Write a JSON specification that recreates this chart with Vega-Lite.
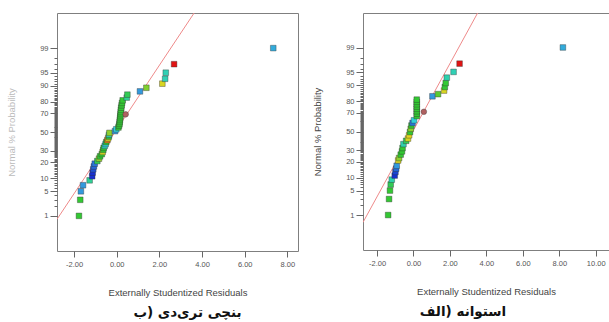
{
  "$schema": "https://vega.github.io/schema/vega-lite/v6.json",
  "background": "white",
  "padding": {"left": 6, "top": 12, "right": 0, "bottom": 0},
  "spacing": 13,
  "config": {
    "view": {"stroke": "#7f7f7f", "strokeWidth": 1},
    "font": "Liberation Sans",
    "axis": {"grid": false, "domain": false, "labelFont": "Liberation Sans", "titleFont": "Liberation Sans", "labelColor": "#555555", "tickColor": "#666666", "titleColor": "#444444", "titleFontWeight": "normal", "labelFontSize": 7.5, "titleFontSize": 9.5}
  },
  "datasets": {
    "bench": [
      {"residual": -1.77, "normal": -2.3263, "level": 0.6, "kind": "run"},
      {"residual": -1.71, "normal": -1.8808, "level": 0.6, "kind": "run"},
      {"residual": -1.68, "normal": -1.6449, "level": 0.15, "kind": "run"},
      {"residual": -1.58, "normal": -1.4758, "level": 0.15, "kind": "run"},
      {"residual": -1.27, "normal": -1.3408, "level": 0.45, "kind": "run"},
      {"residual": -1.15, "normal": -1.2265, "level": 0.0, "kind": "run"},
      {"residual": -1.13, "normal": -1.1264, "level": 0.0, "kind": "run"},
      {"residual": -1.10, "normal": -1.0364, "level": 0.05, "kind": "run"},
      {"residual": -1.07, "normal": -0.9542, "level": 0.08, "kind": "run"},
      {"residual": -1.03, "normal": -0.8779, "level": 0.1, "kind": "run"},
      {"residual": -0.91, "normal": -0.8064, "level": 0.55, "kind": "run"},
      {"residual": -0.83, "normal": -0.7388, "level": 0.72, "kind": "run"},
      {"residual": -0.78, "normal": -0.6745, "level": 0.6, "kind": "run"},
      {"residual": -0.70, "normal": -0.6128, "level": 0.6, "kind": "run"},
      {"residual": -0.66, "normal": -0.5534, "level": 0.85, "kind": "run"},
      {"residual": -0.63, "normal": -0.4959, "level": 0.6, "kind": "run"},
      {"residual": -0.61, "normal": -0.4399, "level": 0.6, "kind": "run"},
      {"residual": -0.56, "normal": -0.3853, "level": 0.38, "kind": "run"},
      {"residual": -0.52, "normal": -0.3319, "level": 0.3, "kind": "run"},
      {"residual": -0.49, "normal": -0.2793, "level": 0.6, "kind": "run"},
      {"residual": -0.44, "normal": -0.2275, "level": 0.93, "kind": "run"},
      {"residual": -0.40, "normal": -0.1764, "level": 0.85, "kind": "run"},
      {"residual": -0.37, "normal": -0.1257, "level": 0.6, "kind": "run"},
      {"residual": -0.36, "normal": -0.0753, "level": 0.38, "kind": "run"},
      {"residual": -0.34, "normal": -0.0251, "level": 0.72, "kind": "run"},
      {"residual": -0.08, "normal": 0.0251, "level": 0.15, "kind": "run"},
      {"residual": -0.02, "normal": 0.0753, "level": 0.3, "kind": "run"},
      {"residual": 0.08, "normal": 0.1257, "level": 0.6, "kind": "run"},
      {"residual": 0.11, "normal": 0.1764, "level": 0.6, "kind": "run"},
      {"residual": 0.13, "normal": 0.2275, "level": 0.6, "kind": "run"},
      {"residual": 0.14, "normal": 0.2793, "level": 0.6, "kind": "run"},
      {"residual": 0.15, "normal": 0.3319, "level": 0.6, "kind": "run"},
      {"residual": 0.16, "normal": 0.3853, "level": 0.6, "kind": "run"},
      {"residual": 0.17, "normal": 0.4399, "level": 0.6, "kind": "run"},
      {"residual": 0.18, "normal": 0.4959, "level": 0.6, "kind": "run"},
      {"residual": 0.19, "normal": 0.5534, "level": 0.6, "kind": "run"},
      {"residual": 0.20, "normal": 0.6128, "level": 0.6, "kind": "run"},
      {"residual": 0.21, "normal": 0.6745, "level": 0.6, "kind": "run"},
      {"residual": 0.23, "normal": 0.7388, "level": 0.6, "kind": "run"},
      {"residual": 0.25, "normal": 0.8064, "level": 0.6, "kind": "run"},
      {"residual": 0.28, "normal": 0.8779, "level": 0.6, "kind": "run"},
      {"residual": 0.47, "normal": 0.9542, "level": 0.45, "kind": "run"},
      {"residual": 0.50, "normal": 1.0364, "level": 0.55, "kind": "run"},
      {"residual": 0.42, "normal": 0.49, "level": 0.5, "kind": "flag"},
      {"residual": 1.09, "normal": 1.1264, "level": 0.15, "kind": "run"},
      {"residual": 1.39, "normal": 1.2265, "level": 0.7, "kind": "run"},
      {"residual": 2.14, "normal": 1.3408, "level": 0.85, "kind": "run"},
      {"residual": 2.27, "normal": 1.4758, "level": 0.38, "kind": "run"},
      {"residual": 2.30, "normal": 1.6449, "level": 0.38, "kind": "run"},
      {"residual": 2.69, "normal": 1.8808, "level": 1.0, "kind": "run"},
      {"residual": 7.34, "normal": 2.3263, "level": 0.2, "kind": "run"}
    ],
    "cylinder": [
      {"residual": -1.39, "normal": -2.3263, "level": 0.6, "kind": "run"},
      {"residual": -1.34, "normal": -1.8808, "level": 0.6, "kind": "run"},
      {"residual": -1.29, "normal": -1.6449, "level": 0.6, "kind": "run"},
      {"residual": -1.25, "normal": -1.4758, "level": 0.55, "kind": "run"},
      {"residual": -1.19, "normal": -1.3408, "level": 0.4, "kind": "run"},
      {"residual": -1.03, "normal": -1.2265, "level": 0.0, "kind": "run"},
      {"residual": -0.99, "normal": -1.1264, "level": 0.03, "kind": "run"},
      {"residual": -0.95, "normal": -1.0364, "level": 0.08, "kind": "run"},
      {"residual": -0.92, "normal": -0.9542, "level": 0.15, "kind": "run"},
      {"residual": -0.84, "normal": -0.8064, "level": 0.85, "kind": "run"},
      {"residual": -0.79, "normal": -0.7388, "level": 0.72, "kind": "run"},
      {"residual": -0.70, "normal": -0.6428, "level": 0.6, "kind": "run"},
      {"residual": -0.63, "normal": -0.5534, "level": 0.6, "kind": "run"},
      {"residual": -0.60, "normal": -0.4599, "level": 0.6, "kind": "run"},
      {"residual": -0.55, "normal": -0.3519, "level": 0.4, "kind": "run"},
      {"residual": -0.40, "normal": -0.2593, "level": 0.55, "kind": "run"},
      {"residual": -0.30, "normal": -0.1964, "level": 0.85, "kind": "run"},
      {"residual": -0.24, "normal": -0.1057, "level": 0.87, "kind": "run"},
      {"residual": -0.19, "normal": -0.0151, "level": 0.6, "kind": "run"},
      {"residual": -0.15, "normal": 0.0753, "level": 0.72, "kind": "run"},
      {"residual": -0.11, "normal": 0.1664, "level": 0.6, "kind": "run"},
      {"residual": -0.05, "normal": 0.2375, "level": 0.1, "kind": "run"},
      {"residual": 0.03, "normal": 0.3119, "level": 0.3, "kind": "run"},
      {"residual": 0.18, "normal": 0.4299, "level": 0.6, "kind": "run"},
      {"residual": 0.18, "normal": 0.4959, "level": 0.6, "kind": "run"},
      {"residual": 0.18, "normal": 0.5634, "level": 0.6, "kind": "run"},
      {"residual": 0.18, "normal": 0.6328, "level": 0.6, "kind": "run"},
      {"residual": 0.18, "normal": 0.6945, "level": 0.6, "kind": "run"},
      {"residual": 0.18, "normal": 0.7588, "level": 0.6, "kind": "run"},
      {"residual": 0.18, "normal": 0.8264, "level": 0.6, "kind": "run"},
      {"residual": 0.18, "normal": 0.8879, "level": 0.6, "kind": "run"},
      {"residual": 0.57, "normal": 0.55, "level": 0.5, "kind": "flag"},
      {"residual": 1.04, "normal": 0.98, "level": 0.15, "kind": "run"},
      {"residual": 1.35, "normal": 1.04, "level": 0.65, "kind": "run"},
      {"residual": 1.68, "normal": 1.14, "level": 0.85, "kind": "run"},
      {"residual": 1.72, "normal": 1.24, "level": 0.6, "kind": "run"},
      {"residual": 1.77, "normal": 1.35, "level": 0.6, "kind": "run"},
      {"residual": 1.83, "normal": 1.50, "level": 0.4, "kind": "run"},
      {"residual": 2.20, "normal": 1.66, "level": 0.38, "kind": "run"},
      {"residual": 2.53, "normal": 1.89, "level": 1.0, "kind": "run"},
      {"residual": 8.20, "normal": 2.34, "level": 0.2, "kind": "run"}
    ],
    "benchFit": [
      {"residual": -2.80, "normal": -2.42},
      {"residual": 3.63, "normal": 3.30}
    ],
    "cylinderFit": [
      {"residual": -2.77, "normal": -2.53},
      {"residual": 3.52, "normal": 3.30}
    ]
  },
  "hconcat": [
    {
      "width": 241,
      "height": 238,
      "title": {"text": "بنچی تری\u200cدی (ب", "orient": "bottom", "anchor": "middle", "font": "DejaVu Sans", "fontSize": 13.5, "fontWeight": "bold", "color": "#111111", "offset": 9, "dx": 10},
      "resolve": {"axis": {"y": "independent"}},
      "layer": [
        {
          "data": {"name": "benchFit"},
          "mark": {"type": "line", "color": "#ee8a8a", "strokeWidth": 1, "clip": true},
          "encoding": {
            "x": {"field": "residual", "type": "quantitative", "scale": {"domain": [-2.8, 8.5], "nice": false, "zero": false},
              "axis": {"values": [-2, 0, 2, 4, 6, 8], "labelExpr": "replace(format(datum.value, '.2f'), '\u2212', '-')", "tickSize": 6, "labelPadding": 3, "title": "Externally Studentized Residuals", "titlePadding": 20}},
            "y": {"field": "normal", "type": "quantitative", "scale": {"domain": [-3.3, 3.3], "nice": false, "zero": false},
              "axis": {"orient": "left", "values": [-2.3263, -2.0537, -1.8808, -1.7507, -1.6449, -1.5548, -1.4758, -1.4051, -1.3408, -1.2816, -1.2265, -1.175, -1.1264, -1.0803, -1.0364, -0.9945, -0.9542, -0.9154, -0.8779, -0.8416, -0.8064, -0.7722, -0.7388, -0.7063, -0.6745, -0.6433, -0.6128, -0.5828, -0.5534, -0.5244, -0.4959, -0.4677, -0.4399, -0.4125, -0.3853, -0.3585, -0.3319, -0.3055, -0.2793, -0.2533, -0.2275, -0.2019, -0.1764, -0.151, -0.1257, -0.1004, -0.0753, -0.0502, -0.0251, 0, 0.0251, 0.0502, 0.0753, 0.1004, 0.1257, 0.151, 0.1764, 0.2019, 0.2275, 0.2533, 0.2793, 0.3055, 0.3319, 0.3585, 0.3853, 0.4125, 0.4399, 0.4677, 0.4959, 0.5244, 0.5534, 0.5828, 0.6128, 0.6433, 0.6745, 0.7063, 0.7388, 0.7722, 0.8064, 0.8416, 0.8779, 0.9154, 0.9542, 0.9945, 1.0364, 1.0803, 1.1264, 1.175, 1.2265, 1.2816, 1.3408, 1.4051, 1.4758, 1.5548, 1.6449, 1.7507, 1.8808, 2.0537, 2.3263], "labels": false, "tickSize": 3, "title": null, "domain": false, "grid": false}}
          }
        },
        {
          "data": {"name": "bench"},
          "mark": {"type": "point", "filled": true, "opacity": 1, "size": 32, "stroke": "#333333", "strokeWidth": 0.7, "strokeOpacity": 0.55},
          "encoding": {
            "x": {"field": "residual", "type": "quantitative", "scale": {"domain": [-2.8, 8.5], "nice": false, "zero": false},
              "axis": {"values": [-2, 0, 2, 4, 6, 8], "labelExpr": "replace(format(datum.value, '.2f'), '\u2212', '-')", "tickSize": 6, "labelPadding": 3, "title": "Externally Studentized Residuals", "titlePadding": 20}},
            "y": {"field": "normal", "type": "quantitative", "scale": {"domain": [-3.3, 3.3], "nice": false, "zero": false},
              "axis": {"orient": "left", "values": [-2.3263, -1.6449, -1.2816, -0.8416, -0.5244, 0, 0.5244, 0.8416, 1.2816, 1.6449, 2.3263], "labelExpr": "format(round(cumulativeNormal(datum.value) * 100), 'd')", "tickSize": 7, "labelPadding": 2, "title": "Normal % Probability", "titlePadding": 23, "titleColor": "#bbbbbb"}},
            "color": {"condition": {"test": "datum.kind === 'flag'", "value": "#b06060"}, "field": "level", "type": "quantitative", "legend": null,
              "scale": {"type": "linear", "domain": [0, 0.15, 0.3, 0.45, 0.6, 0.75, 0.87, 1], "range": ["#1830d0", "#3399dd", "#30d0d8", "#30d096", "#33c833", "#a6d22e", "#e2d520", "#e01414"], "interpolate": "rgb"}},
            "shape": {"field": "kind", "type": "nominal", "legend": null, "scale": {"domain": ["run", "flag"], "range": ["square", "circle"]}}
          }
        }
      ]
    },
    {
      "width": 246,
      "height": 237,
      "title": {"text": "استوانه (الف", "orient": "bottom", "anchor": "middle", "font": "DejaVu Sans", "fontSize": 13.5, "fontWeight": "bold", "color": "#111111", "offset": 9, "dx": -23},
      "resolve": {"axis": {"y": "independent"}},
      "layer": [
        {
          "data": {"name": "cylinderFit"},
          "mark": {"type": "line", "color": "#ee8a8a", "strokeWidth": 1, "clip": true},
          "encoding": {
            "x": {"field": "residual", "type": "quantitative", "scale": {"domain": [-2.77, 10.73], "nice": false, "zero": false},
              "axis": {"values": [-2, 0, 2, 4, 6, 8, 10], "labelExpr": "replace(format(datum.value, '.2f'), '\u2212', '-')", "tickSize": 6, "labelPadding": 3, "title": "Externally Studentized Residuals", "titlePadding": 20}},
            "y": {"field": "normal", "type": "quantitative", "scale": {"domain": [-3.3, 3.3], "nice": false, "zero": false},
              "axis": {"orient": "left", "values": [-2.3263, -2.0537, -1.8808, -1.7507, -1.6449, -1.5548, -1.4758, -1.4051, -1.3408, -1.2816, -1.2265, -1.175, -1.1264, -1.0803, -1.0364, -0.9945, -0.9542, -0.9154, -0.8779, -0.8416, -0.8064, -0.7722, -0.7388, -0.7063, -0.6745, -0.6433, -0.6128, -0.5828, -0.5534, -0.5244, -0.4959, -0.4677, -0.4399, -0.4125, -0.3853, -0.3585, -0.3319, -0.3055, -0.2793, -0.2533, -0.2275, -0.2019, -0.1764, -0.151, -0.1257, -0.1004, -0.0753, -0.0502, -0.0251, 0, 0.0251, 0.0502, 0.0753, 0.1004, 0.1257, 0.151, 0.1764, 0.2019, 0.2275, 0.2533, 0.2793, 0.3055, 0.3319, 0.3585, 0.3853, 0.4125, 0.4399, 0.4677, 0.4959, 0.5244, 0.5534, 0.5828, 0.6128, 0.6433, 0.6745, 0.7063, 0.7388, 0.7722, 0.8064, 0.8416, 0.8779, 0.9154, 0.9542, 0.9945, 1.0364, 1.0803, 1.1264, 1.175, 1.2265, 1.2816, 1.3408, 1.4051, 1.4758, 1.5548, 1.6449, 1.7507, 1.8808, 2.0537, 2.3263], "labels": false, "tickSize": 3, "title": null, "domain": false, "grid": false}}
          }
        },
        {
          "data": {"name": "cylinder"},
          "mark": {"type": "point", "filled": true, "opacity": 1, "size": 32, "stroke": "#333333", "strokeWidth": 0.7, "strokeOpacity": 0.55},
          "encoding": {
            "x": {"field": "residual", "type": "quantitative", "scale": {"domain": [-2.77, 10.73], "nice": false, "zero": false},
              "axis": {"values": [-2, 0, 2, 4, 6, 8, 10], "labelExpr": "replace(format(datum.value, '.2f'), '\u2212', '-')", "tickSize": 6, "labelPadding": 3, "title": "Externally Studentized Residuals", "titlePadding": 20}},
            "y": {"field": "normal", "type": "quantitative", "scale": {"domain": [-3.3, 3.3], "nice": false, "zero": false},
              "axis": {"orient": "left", "values": [-2.3263, -1.6449, -1.2816, -0.8416, -0.5244, 0, 0.5244, 0.8416, 1.2816, 1.6449, 2.3263], "labelExpr": "format(round(cumulativeNormal(datum.value) * 100), 'd')", "tickSize": 7, "labelPadding": 2, "title": "Normal % Probability", "titlePadding": 23}},
            "color": {"condition": {"test": "datum.kind === 'flag'", "value": "#b06060"}, "field": "level", "type": "quantitative", "legend": null,
              "scale": {"type": "linear", "domain": [0, 0.15, 0.3, 0.45, 0.6, 0.75, 0.87, 1], "range": ["#1830d0", "#3399dd", "#30d0d8", "#30d096", "#33c833", "#a6d22e", "#e2d520", "#e01414"], "interpolate": "rgb"}},
            "shape": {"field": "kind", "type": "nominal", "legend": null, "scale": {"domain": ["run", "flag"], "range": ["square", "circle"]}}
          }
        }
      ]
    }
  ]
}
